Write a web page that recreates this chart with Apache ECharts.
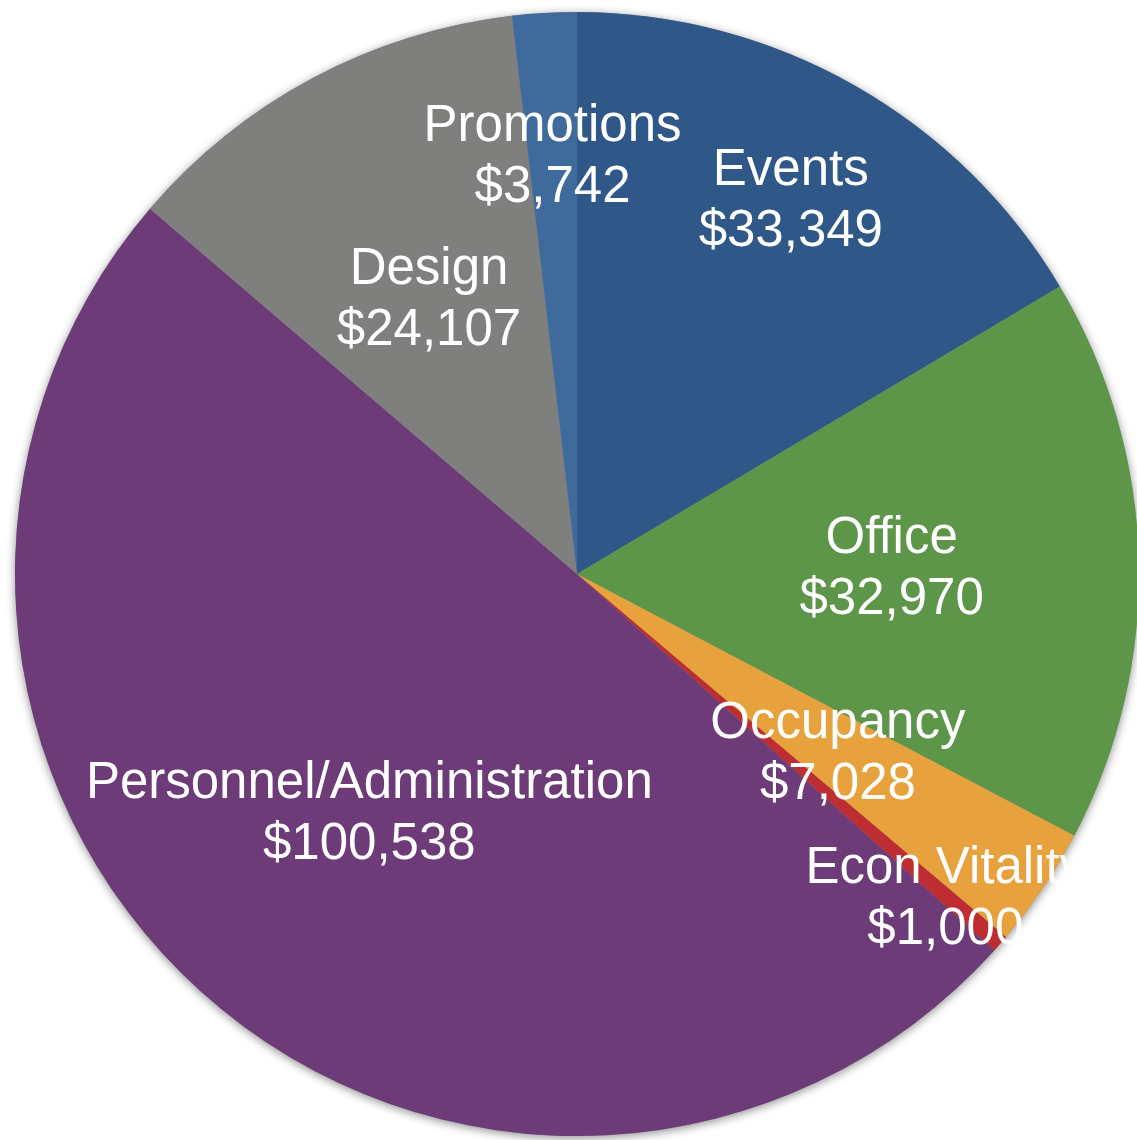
<!DOCTYPE html>
<html>
<head>
<meta charset="utf-8">
<title>Budget by Category</title>
<script src="https://cdn.jsdelivr.net/npm/echarts@6/dist/echarts.min.js"></script>
<style>
  html, body { margin: 0; padding: 0; background: #ffffff; }
  #chart { width: 1137px; height: 1140px; }
</style>
</head>
<body>
<div id="chart"></div>
<script>
// Budget categories, clockwise from 12 o'clock
const categories = ['Events', 'Office', 'Occupancy', 'Econ Vitality', 'Personnel/Administration', 'Design', 'Promotions'];
const amounts = [33349, 32970, 7028, 1000, 100538, 24107, 3742];

// Slice colours and how far out each label sits (fraction of the radius)
const sliceColors = ['#2F5889', '#5E9649', '#E8A23D', '#BE2D31', '#6E3B79', '#7F807E', '#3F6A9C'];
const labelRadius = [0.77, 0.56, 0.56, 0.87, 0.56, 0.56, 0.75];

const CENTER = [577, 574];
const RADIUS = 562;
const LABEL_BASELINE_SHIFT = 4;

const fmt = v => '$' + v.toLocaleString('en-US');

const pieData = categories.map((name, i) => ({
  name,
  value: amounts[i],
  itemStyle: { color: sliceColors[i] }
}));

const chart = echarts.init(document.getElementById('chart'), null, { renderer: 'canvas' });

chart.setOption({
  animation: false,
  backgroundColor: '#ffffff',
  series: [
    {
      // soft drop shadow under the whole pie
      type: 'pie',
      silent: true,
      z: 1,
      center: CENTER,
      radius: [0, RADIUS],
      startAngle: 90,
      clockwise: true,
      label: { show: false },
      labelLine: { show: false },
      itemStyle: {
        color: '#999999',
        shadowBlur: 10,
        shadowColor: 'rgba(0,0,0,0.45)',
        shadowOffsetX: 0,
        shadowOffsetY: 2
      },
      data: categories.map((name, i) => ({ name, value: amounts[i] }))
    },
    {
      type: 'pie',
      z: 2,
      center: CENTER,
      radius: [0, RADIUS],
      startAngle: 90,
      clockwise: true,
      avoidLabelOverlap: false,
      itemStyle: { borderWidth: 0 },
      emphasis: { disabled: true },
      label: {
        show: true,
        position: 'inside',
        color: '#ffffff',
        fontFamily: '"Liberation Sans", Helvetica, Arial, sans-serif',
        fontSize: 51,
        lineHeight: 61,
        align: 'center',
        formatter: p => p.name + '\n' + fmt(p.value)
      },
      labelLine: { show: false },
      labelLayout: params => {
        const r = params.labelRect;
        const lx = r.x + r.width / 2;
        const ly = r.y + r.height / 2;
        const vx = lx - CENTER[0];
        const vy = ly - CENTER[1];
        const d = Math.hypot(vx, vy) || 1;
        const target = labelRadius[params.dataIndex] * RADIUS;
        return {
          dx: vx / d * (target - d),
          dy: vy / d * (target - d) + LABEL_BASELINE_SHIFT
        };
      },
      data: pieData
    }
  ]
});
</script>
</body>
</html>
